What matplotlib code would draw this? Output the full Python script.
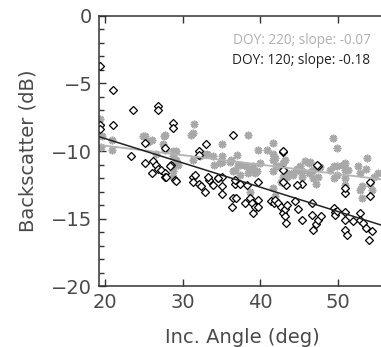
import matplotlib
matplotlib.use("Agg")
import matplotlib.pyplot as plt
import numpy as np
from matplotlib.ticker import MultipleLocator

# DOY 120 (black diamonds)
doy120_x = [19.4, 21.0, 23.6, 26.8, 26.8, 19.4, 19.4, 21.0, 28.8, 28.8, 36.5, 33.0, 25.1, 27.7, 32.1, 32.1,
            42.9, 23.4, 47.4, 47.3, 25.1, 26.2, 26.6, 26.8, 27.2, 26.1, 27.7, 27.7, 28.5, 29.0, 31.3, 31.3,
            31.6, 32.1, 32.4, 32.9, 33.4, 33.9, 34.6, 35.1, 35.0, 36.5, 36.9, 36.4, 36.7, 37.4, 38.0, 38.3,
            38.65, 38.9, 39.1, 39.3, 39.7, 39.7, 39.7, 41.4, 41.7, 41.9, 42.3, 42.7, 42.9, 43.1, 43.3, 43.2,
            43.4, 43.3, 44.4, 44.8, 45.3, 45.3, 44.7, 46.6, 46.6, 46.8, 47.2, 47.4, 47.8, 49.4, 49.6, 49.6,
            49.8, 50.9, 50.9, 50.9, 51.1, 50.9, 50.9, 51.9, 52.8, 52.8, 53.2, 53.6, 54.0, 54.3, 54.1, 54.1,
            42.9, 42.9, 36.7, 35.1, 33.3, 34.6, 29.1, 27.8, 28.4, 42.9]
doy120_y = [-3.7, -5.5, -7.0, -6.7, -7.0, -8.1, -8.35, -8.1, -7.9, -8.3, -8.8, -9.5, -9.4, -9.8, -10.0, -10.3,
            -10.1, -10.4, -11.1, -11.05, -10.85, -10.7, -11.0, -11.3, -11.4, -11.6, -11.6, -11.9, -11.0, -12.1, -11.9, -12.3,
            -11.8, -12.4, -12.6, -13.0, -12.1, -12.5, -12.0, -13.2, -12.6, -13.5, -13.5, -14.1, -12.4, -12.4, -13.8, -12.5,
            -13.5, -13.8, -14.6, -14.1, -12.3, -13.6, -14.1, -13.7, -13.8, -13.6, -13.8, -14.1, -14.6, -14.8, -15.3, -14.3,
            -14.0, -12.5, -13.7, -14.3, -15.1, -12.4, -12.5, -13.8, -14.7, -15.8, -15.4, -15.1, -14.8, -14.2, -14.5, -14.7,
            -14.4, -14.5, -15.1, -15.8, -16.2, -13.1, -12.7, -15.2, -14.6, -15.1, -15.3, -15.7, -16.6, -15.9, -12.25, -13.3,
            -11.4, -12.25, -12.1, -11.9, -11.9, -12.0, -12.2, -11.9, -11.1, -10.0]

# DOY 220 (gray asterisks)
doy220_x = [19.4, 19.5, 19.6, 20.9, 20.9, 24.9, 25.5, 26.0, 27.6, 27.5, 27.7, 26.6, 31.4, 31.3, 31.1, 35.1,
            38.4, 41.6, 39.7, 49.3, 49.8, 53.7, 53.6, 55.1, 28.8, 28.8, 29.2, 29.4, 28.75, 29.3, 31.3, 32.2,
            32.8, 33.1, 33.9, 34.0, 35.0, 34.8, 36.1, 36.2, 37.0, 37.1, 37.4, 36.7, 38.2, 38.6, 39.1, 39.3,
            39.5, 39.9, 40.8, 41.6, 41.6, 41.9, 42.0, 41.6, 42.3, 43.1, 42.9, 43.4, 43.4, 44.2, 44.7, 45.1,
            45.3, 45.7, 46.4, 46.3, 46.6, 46.8, 46.8, 47.2, 47.7, 48.9, 49.4, 49.4, 49.8, 49.8, 50.6, 50.9,
            50.9, 50.9, 50.9, 51.3, 52.6, 52.8, 52.8, 53.0, 53.0, 54.1, 54.3, 54.6, 28.8, 28.8, 36.5, 37.4,
            38.4, 38.65, 41.6, 41.9, 42.7, 42.9, 44.2, 45.1, 45.3, 46.3, 47.4, 35.0, 29.2, 25.1, 27.7]
doy220_y = [-7.6, -9.7, -8.9, -9.2, -9.9, -8.9, -9.3, -9.2, -8.9, -9.5, -9.9, -10.2, -8.0, -8.7, -8.8, -9.5,
            -8.8, -9.4, -9.9, -9.0, -9.75, -10.5, -11.3, -11.6, -10.0, -10.4, -10.65, -11.0, -11.1, -10.9, -10.65, -10.4,
            -10.2, -10.2, -10.4, -11.0, -10.4, -10.9, -10.8, -10.65, -10.3, -11.0, -11.0, -11.4, -11.1, -11.4, -11.1, -11.6,
            -11.5, -10.9, -9.9, -10.2, -10.65, -10.5, -11.1, -11.5, -11.1, -10.65, -10.9, -11.6, -11.9, -11.8, -11.3, -11.1,
            -11.5, -10.7, -10.8, -10.9, -11.5, -11.4, -12.0, -12.4, -11.2, -11.4, -11.1, -12.0, -11.1, -11.75, -11.0, -10.9,
            -11.4, -12.0, -12.5, -11.4, -11.1, -11.6, -12.9, -12.6, -13.5, -12.4, -12.9, -11.9, -11.5, -11.9, -11.5, -11.75,
            -11.6, -13.05, -12.7, -13.35, -12.25, -11.9, -11.6, -11.5, -11.9, -11.6, -11.9, -10.8, -10.0, -8.9, -8.8]

# fitted lines (value at x=20, slope)
fit120 = (-9.07, -0.18)
fit220 = (-9.6, -0.07)
label220 = "DOY: 220; slope: -0.07"
label120 = "DOY: 120; slope: -0.18"

xlim = (19.28, 55.5)
ylim = (-20, 0)

plt.rcParams['font.family'] = ['DejaVu Sans']
fig = plt.figure(figsize=(3.81, 3.47), dpi=100)
ax = fig.add_axes([0.2606, 0.1744, 1 - 0.2606 + 0.01, 0.9548 - 0.1744])

gray = '#a8a8a8'
ax.plot(doy220_x, doy220_y, linestyle='none', marker=(8, 2, 0), ms=5.5, mec=gray, mew=1.2, color=gray)
ax.plot(doy120_x, doy120_y, linestyle='none', marker='D', ms=4.0, mfc='white', mec='black', mew=0.9)

xx = np.array(xlim)
ax.plot(xx, fit220[0] + fit220[1] * (xx - 20), color='#b4b4b4', lw=1.3)
ax.plot(xx, fit120[0] + fit120[1] * (xx - 20), color='#222222', lw=1.1)

ax.set_xlim(xlim[0], xlim[1] + (xlim[1] - xlim[0]) * 0.01 / (1 - 0.2606))
ax.set_ylim(*ylim)
ax.xaxis.set_major_locator(MultipleLocator(10))
ax.yaxis.set_major_locator(MultipleLocator(5))
ax.yaxis.set_minor_locator(MultipleLocator(1))
ax.tick_params(axis='both', which='both', direction='in', colors='#333333', labelcolor='#4a4a4a',
               labelsize=14, pad=5)
ax.tick_params(axis='x', which='both', top=True)
ax.tick_params(which='major', length=5, width=1)
ax.tick_params(which='minor', length=3.5, width=1)
ax.tick_params(axis='x', which='minor', bottom=False, top=False)
for s in ['left', 'bottom', 'top']:
    ax.spines[s].set_color('#333333')
    ax.spines[s].set_linewidth(1.1)
ax.spines['right'].set_visible(False)

ax.set_xlabel('Inc. Angle (deg)', fontsize=14, color='#4a4a4a', labelpad=11)
ax.set_ylabel('Backscatter (dB)', fontsize=14, color='#4a4a4a', labelpad=10)

ax.text(0.95, 0.91, label220, transform=ax.transAxes, ha='right', va='center',
        fontsize=9.8, color='#b0b0b0', family=['Open Sans', 'DejaVu Sans'])
ax.text(0.95, 0.836, label120, transform=ax.transAxes, ha='right', va='center',
        fontsize=9.8, color='#222222', family=['Open Sans', 'DejaVu Sans'])

fig.savefig('out.png', dpi=100)
